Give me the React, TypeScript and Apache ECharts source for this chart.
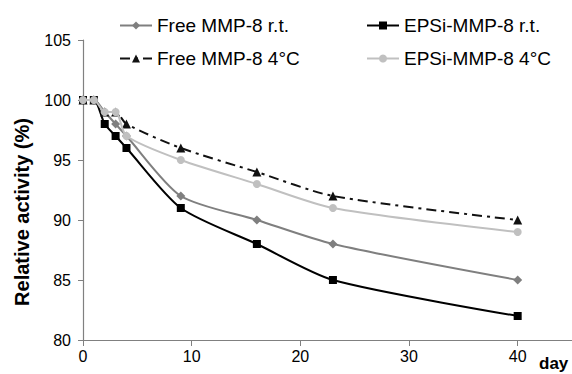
import React, { useEffect, useRef } from "react";
import * as echarts from "echarts";

const days = [0, 1, 2, 3, 4, 9, 16, 23, 40];
const freeRT = [100, 100, 99, 98, 97, 92, 90, 88, 85];
const epsiRT = [100, 100, 98, 97, 96, 91, 88, 85, 82];
const free4C = [100, 100, 99, 99, 98, 96, 94, 92, 90];
const epsi4C = [100, 100, 99, 99, 97, 95, 93, 91, 89];
const xTicks = [0, 10, 20, 30, 40];
const yTicks = [80, 85, 90, 95, 100, 105];

const pair = (ys: number[]) => days.map((d, i) => [d, ys[i]]);

export default function App() {
  const ref = useRef<HTMLDivElement>(null);
  useEffect(() => {
    if (!ref.current) return;
    const chart = echarts.init(ref.current, undefined, { renderer: "svg" });
    const font = "Liberation Sans, Arial, sans-serif";
    chart.setOption({
      animation: false,
      backgroundColor: "#ffffff",
      textStyle: { fontFamily: font },
      grid: { left: 83, top: 40, bottom: 34, right: -3 },
      legend: [
        {
          data: ["Free MMP-8 r.t.", "Free MMP-8 4°C"],
          orient: "vertical",
          left: 114,
          top: 11,
          itemWidth: 32,
          itemHeight: 10,
          itemGap: 14,
          textStyle: { fontSize: 19, color: "#000", fontFamily: font },
        },
        {
          data: ["EPSi-MMP-8 r.t.", "EPSi-MMP-8 4°C"],
          orient: "vertical",
          left: 361,
          top: 11,
          itemWidth: 32,
          itemHeight: 10,
          itemGap: 14,
          textStyle: { fontSize: 19, color: "#000", fontFamily: font },
        },
      ],
      xAxis: {
        type: "value",
        min: 0,
        max: 45,
        interval: 10,
        splitLine: { show: false },
        axisLine: { lineStyle: { color: "#808080", width: 1.2 } },
        axisTick: { show: true, length: 6, lineStyle: { color: "#808080" } },
        axisLabel: {
          fontSize: 16,
          color: "#000",
          margin: 8,
          showMaxLabel: false,
          formatter: (v: number) => (xTicks.includes(v) ? String(v) : ""),
        },
      },
      yAxis: {
        type: "value",
        min: yTicks[0],
        max: yTicks[yTicks.length - 1],
        interval: 5,
        splitLine: { show: false },
        axisLine: { show: true, lineStyle: { color: "#808080", width: 1.2 } },
        axisTick: { show: true, length: 5, lineStyle: { color: "#808080" } },
        axisLabel: { fontSize: 16, color: "#000", margin: 12 },
      },
      graphic: [
        {
          type: "text",
          x: 22,
          y: 212,
          rotation: Math.PI / 2,
          style: {
            text: "Relative activity (%)",
            fontSize: 20,
            fontWeight: "bold",
            fill: "#000",
            fontFamily: font,
            align: "center",
            verticalAlign: "middle",
          },
        },
        {
          type: "text",
          x: 539,
          y: 363,
          style: {
            text: "day",
            fontSize: 17,
            fontWeight: "bold",
            fill: "#000",
            fontFamily: font,
            align: "left",
            verticalAlign: "middle",
          },
        },
      ],
      series: [
        {
          name: "Free MMP-8 r.t.",
          type: "line",
          data: pair(freeRT),
          smooth: 0.25,
          symbol: "diamond",
          symbolSize: 9,
          color: "#7f7f7f",
          lineStyle: { color: "#7f7f7f", width: 2 },
          itemStyle: { color: "#7f7f7f" },
          z: 3,
        },
        {
          name: "EPSi-MMP-8 r.t.",
          type: "line",
          data: pair(epsiRT),
          smooth: 0.25,
          symbol: "rect",
          symbolSize: 8,
          color: "#000",
          lineStyle: { color: "#000", width: 2 },
          itemStyle: { color: "#000" },
          z: 2,
        },
        {
          name: "Free MMP-8 4°C",
          type: "line",
          data: pair(free4C),
          smooth: 0.25,
          symbol: "triangle",
          symbolSize: 9,
          color: "#111",
          lineStyle: { color: "#111", width: 2, type: [10, 5, 3, 5] },
          itemStyle: { color: "#111" },
          z: 4,
        },
        {
          name: "EPSi-MMP-8 4°C",
          type: "line",
          data: pair(epsi4C),
          smooth: 0.25,
          symbol: "circle",
          symbolSize: 8,
          color: "#c0c0c0",
          lineStyle: { color: "#c0c0c0", width: 2 },
          itemStyle: { color: "#c0c0c0" },
          z: 5,
        },
      ],
    });
    return () => chart.dispose();
  }, []);
  return <div ref={ref} style={{ width: 572, height: 374, position: "absolute", left: 0, top: 0 }} />;
}
